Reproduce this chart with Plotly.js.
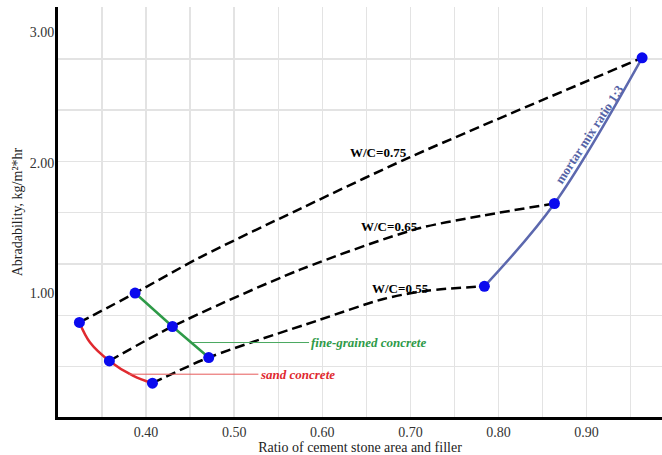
<!DOCTYPE html>
<html>
<head>
<meta charset="utf-8">
<script src="https://cdn.plot.ly/plotly-3.0.1.min.js"></script>
<style>html,body{margin:0;padding:0;background:#fff;overflow:hidden}</style>
</head>
<body>
<div id="chart" style="width:662px;height:455px"></div>
<script>
// W/C = 0.75 line
const wc075X = [0.3243, 0.3875, 0.4613, 0.5748, 0.6997, 0.963];
const wc075Y = [0.774, 1.000, 1.274, 1.646, 2.043, 2.805];
// W/C = 0.65 line
const wc065X = [0.3583, 0.4299, 0.5748, 0.7073, 0.7829, 0.8635];
const wc065Y = [0.479, 0.743, 1.179, 1.492, 1.595, 1.687];
// W/C = 0.55 line
const wc055X = [0.4072, 0.4711, 0.5938, 0.6694, 0.7186, 0.784];
const wc055Y = [0.308, 0.505, 0.787, 0.954, 1.018, 1.051];
// sand concrete
const sandX = [0.3243, 0.3364, 0.3583, 0.3856, 0.4072];
const sandY = [0.774, 0.620, 0.479, 0.364, 0.308];
// fine-grained concrete
const fineX = [0.3875, 0.4299, 0.4711];
const fineY = [1.000, 0.743, 0.505];
// mortar mix ratio 1:3
const mortarX = [0.784, 0.8635, 0.963];
const mortarY = [1.051, 1.687, 2.805];
// measured points
const pointX = [0.3243, 0.3875, 0.3583, 0.4299, 0.4711, 0.4072, 0.784, 0.8635, 0.963];
const pointY = [0.774, 1.000, 0.479, 0.743, 0.505, 0.308, 1.051, 1.687, 2.805];

const xTicks = [0.4, 0.5, 0.6, 0.7, 0.8, 0.9];
const yTicks = [1, 2, 3];

const serif = 'Liberation Serif, Times New Roman, serif';
const dashLine = {color: '#000', width: 2.5, dash: '10px,5px', shape: 'spline', smoothing: 0.8};

const traces = [
  {x: wc075X, y: wc075Y, mode: 'lines', line: dashLine, name: 'W/C=0.75'},
  {x: wc065X, y: wc065Y, mode: 'lines', line: dashLine, name: 'W/C=0.65'},
  {x: wc055X, y: wc055Y, mode: 'lines', line: dashLine, name: 'W/C=0.55'},
  {x: sandX, y: sandY, mode: 'lines', line: {color: '#e0292f', width: 2.5, shape: 'spline'}, name: 'sand concrete'},
  {x: fineX, y: fineY, mode: 'lines', line: {color: '#2e9a48', width: 2.5}, name: 'fine-grained concrete'},
  {x: mortarX, y: mortarY, mode: 'lines', line: {color: '#5c68ae', width: 2.5, shape: 'spline'}, name: 'mortar mix ratio 1:3'},
  {x: pointX, y: pointY, mode: 'markers', marker: {color: '#0a0aee', size: 11}, name: 'points'}
];

const layout = {
  width: 662, height: 455,
  margin: {l: 58, r: 0, t: 7, b: 38},
  paper_bgcolor: '#fff', plot_bgcolor: '#fff',
  showlegend: false,
  font: {family: serif, size: 14, color: '#333'},
  xaxis: {
    range: [0.3, 0.9856],
    tickmode: 'array', tickvals: xTicks, tickformat: '.2f',
    showgrid: false, zeroline: false,
    minor: {tickmode: 'linear', tick0: 0.3, dtick: 0.05, showgrid: true, gridcolor: '#e3e3e3', gridwidth: 1.5, ticks: ''},
    showline: true, linecolor: '#000', linewidth: 3,
    ticks: '',
    tickfont: {family: serif, size: 14, color: '#333'},
    title: {text: 'Ratio of cement stone area and filler', font: {family: serif, size: 14, color: '#222'}, standoff: 6}
  },
  yaxis: {
    range: [0.0485, 3.195],
    tickmode: 'array', tickvals: yTicks, tickformat: '.2f',
    showgrid: false, zeroline: false,
    minor: {tickmode: 'linear', tick0: 2.01, dtick: 0.3938, showgrid: true, gridcolor: '#e3e3e3', gridwidth: 1.5, ticks: ''},
    showline: true, linecolor: '#000', linewidth: 3,
    ticks: '', ticklabelstandoff: -2,
    tickfont: {family: serif, size: 14, color: '#333'},
    title: {text: 'Abradability, kg/m²*hr', font: {family: serif, size: 14, color: '#222'}, standoff: 4}
  },
  annotations: [
    {x: 0.6633, y: 2.075, text: '<b>W/C=0.75</b>', showarrow: false, font: {family: serif, size: 13, color: '#000'}},
    {x: 0.6758, y: 1.510, text: '<b>W/C=0.65</b>', showarrow: false, font: {family: serif, size: 13, color: '#000'}},
    {x: 0.6889, y: 1.037, text: '<b>W/C=0.55</b>', showarrow: false, font: {family: serif, size: 13, color: '#000'}},
    {x: 0.9028, y: 2.218, text: '<b>mortar mix ratio 1:3</b>', showarrow: false, textangle: -57,
     font: {family: serif, size: 13, color: '#5563a6'}},
    {x: 0.4533, y: 0.620, text: '<b><i>fine-grained concrete</i></b>', showarrow: true, arrowhead: 0,
     arrowwidth: 1, arrowcolor: '#4aa860', ax: 175, ay: 0, font: {family: serif, size: 13, color: '#2e9a48'}},
    {x: 0.3799, y: 0.377, text: '<b><i>sand concrete</i></b>', showarrow: true, arrowhead: 0,
     arrowwidth: 1, arrowcolor: '#e65a5a', ax: 169, ay: 0, font: {family: serif, size: 13, color: '#e0292f'}}
  ]
};

Plotly.newPlot('chart', traces, layout, {displayModeBar: false, staticPlot: true});
</script>
</body>
</html>
